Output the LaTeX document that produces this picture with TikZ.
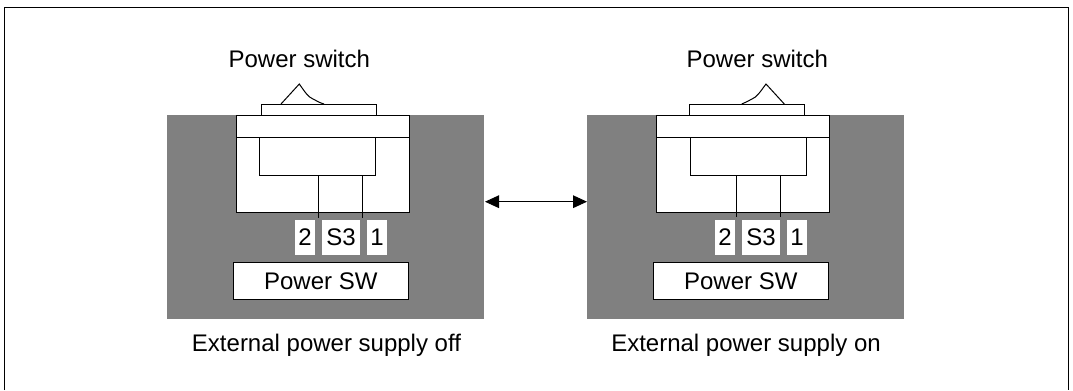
\documentclass[tikz,border=0pt]{standalone}
\usepackage{fontspec}
\setmainfont{Liberation Sans}
\usetikzlibrary{arrows.meta}
\tikzset{x=0.75pt,y=-0.75pt,
 ln/.style={draw=black,line width=0.75pt},
 grey/.style={fill=black!50,draw=none},
 boxw/.style={ln,fill=white},
 lab/.style={fill=white,inner sep=0pt,font=\fontsize{18pt}{20pt}\selectfont,anchor=center},
 pbox/.style={ln,fill=white,minimum width=131.5pt,minimum height=27.7pt,inner sep=0pt,font=\fontsize{18pt}{20pt}\selectfont},
 txt/.style={inner sep=0pt,font=\fontsize{18pt}{20pt}\selectfont,anchor=base}}
\begin{document}
\begin{tikzpicture}
\useasboundingbox (0,0) rectangle (1073,390);
\draw[ln] (4.5,390) -- (4.5,7) -- (1068.5,7) -- (1068.5,390);
% left panel
\fill[grey] (167,115) rectangle (484,319);
\draw[boxw] (261.7,104) rectangle (376,116);
\draw[boxw] (236.3,115.7) rectangle (409.3,212.3);
\draw[ln] (236.3,137.7) -- (409.3,137.7);
\draw[ln] (259.3,137.7) rectangle (375,175.7);
\coordinate (lw1a) at (318,175.7);\coordinate (lw1b) at (318,217.7);
\coordinate (lw2a) at (362.3,175.7);\coordinate (lw2b) at (362.3,217.7);
\draw[ln] (lw1a) -- (lw1b);
\draw[ln] (lw2a) -- (lw2b);
\draw[ln] (281,104) -- (299.3,84) .. controls (305,92) and (308,97) .. (313,99) .. controls (317,101) and (320,103) .. (324,104);
\node[lab,minimum width=15pt,minimum height=26pt] (l2) at (305,237.3) {2};
\node[lab,minimum width=28.5pt,minimum height=26pt] (ls) at (341,237.3) {S3};
\node[lab,minimum width=15pt,minimum height=26pt] (l1) at (377,237.3) {1};
\node[pbox] (lp) at (320.8,280.8) {Power SW};
\node[txt] (lt) at (299.3,67.7) {Power switch};
\node[txt] (lc) at (326.5,351.7) {External power supply off};
% right panel
\fill[grey] (587,115) rectangle (904,319);
\draw[boxw] (689.7,104) rectangle (804,116);
\draw[boxw] (656.3,115.7) rectangle (829.3,212.3);
\draw[ln] (656.3,137.7) -- (829.3,137.7);
\draw[ln] (690.7,137.7) rectangle (806,175.7);
\coordinate (rw1a) at (736.3,175.7);\coordinate (rw1b) at (736.3,216.5);
\coordinate (rw2a) at (780.7,175.7);\coordinate (rw2b) at (780.7,216.5);
\draw[ln] (rw1a) -- (rw1b);
\draw[ln] (rw2a) -- (rw2b);
\draw[ln] (784.3,104) -- (766,84) .. controls (760,92) and (757,97) .. (752,99) .. controls (748,101) and (745,103) .. (741.7,104);
\node[lab,minimum width=15pt,minimum height=26pt] (r2) at (725,237.3) {2};
\node[lab,minimum width=28.5pt,minimum height=26pt] (rs) at (761,237.3) {S3};
\node[lab,minimum width=15pt,minimum height=26pt] (r1) at (797,237.3) {1};
\node[pbox] (rp) at (740.8,280.8) {Power SW};
\node[txt] (rt) at (757.3,67.7) {Power switch};
\node[txt] (rc) at (746,351.7) {External power supply on};
% arrow
\coordinate (al) at (485,201.7);\coordinate (ar) at (587,201.7);
\draw[ln,{Triangle[length=10.5pt,width=9.5pt]}-{Triangle[length=10.5pt,width=9.5pt]}] (al) -- (ar);
\end{tikzpicture}
\end{document}
